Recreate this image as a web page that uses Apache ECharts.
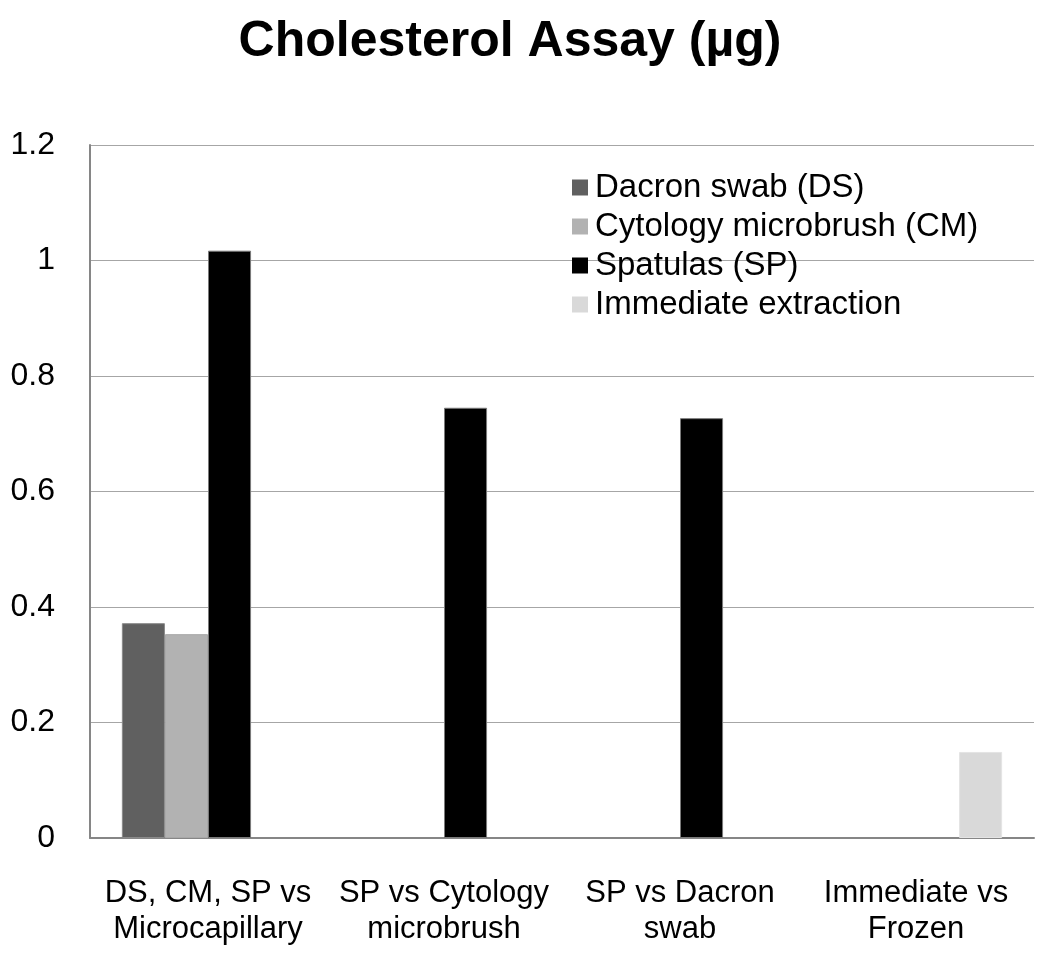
<!DOCTYPE html>
<html>
<head>
<meta charset="utf-8">
<script src="https://cdn.jsdelivr.net/npm/echarts@6/dist/echarts.min.js"></script>
<style>html,body{margin:0;padding:0;background:#fff;}#chart{width:1050px;height:966px;}</style>
</head>
<body>
<div id="chart"></div>
<script>
const categories = ['DS, CM, SP vs\nMicrocapillary', 'SP vs Cytology\nmicrobrush', 'SP vs Dacron\nswab', 'Immediate vs\nFrozen'];
const seriesNames = ['Dacron swab (DS)', 'Cytology microbrush (CM)', 'Spatulas (SP)', 'Immediate extraction'];
const dacronSwab = [0.372, null, null, null];
const cytologyMicrobrush = [0.353, null, null, null];
const spatulas = [1.017, 0.745, 0.727, null];
const immediateExtraction = [null, null, null, 0.149];
const yTicks = { min: 0, max: 1.2, interval: 0.2 };

const colors = ['#606060', '#b2b2b2', '#000000', '#d9d9d9'];
const borders = ['#8a8a8a', '#a8a8a8', '#7a7a7a', '#e4e4e4'];
const allData = [dacronSwab, cytologyMicrobrush, spatulas, immediateExtraction];

const chart = echarts.init(document.getElementById('chart'));
const font = 'Liberation Sans, Arial, sans-serif';
chart.setOption({
  animation: false,
  backgroundColor: '#fff',
  title: {
    text: 'Cholesterol Assay (µg)',
    left: 505, top: 12, textAlign: 'center',
    textStyle: { fontFamily: font, fontWeight: 'bold', fontSize: 50, color: '#000' }
  },
  legend: {
    orient: 'vertical', left: 567, top: 166,
    itemWidth: 16, itemHeight: 16, itemGap: 6,
    icon: 'rect',
    itemStyle: { borderWidth: 0 },
    data: seriesNames,
    textStyle: { fontFamily: font, fontSize: 33, color: '#000', lineHeight: 33, padding: [0, 0, 0, 2] }
  },
  grid: { left: 90, top: 145, right: 16, bottom: 128, containLabel: false },
  xAxis: {
    type: 'category', data: categories,
    axisLine: { lineStyle: { color: '#868686', width: 2 } },
    axisTick: { show: false },
    axisLabel: { fontFamily: font, fontSize: 31, color: '#000', lineHeight: 36, margin: 37, interval: 0 }
  },
  yAxis: {
    type: 'value', min: yTicks.min, max: yTicks.max, interval: yTicks.interval,
    axisLine: { show: true, lineStyle: { color: '#868686', width: 2 } },
    axisTick: { show: false },
    splitLine: { lineStyle: { color: '#a6a6a6', width: 1 } },
    axisLabel: { fontFamily: font, fontSize: 32, color: '#000', margin: 35 }
  },
  series: seriesNames.map((n, i) => ({
    name: n, type: 'bar', data: allData[i],
    barGap: '0%', barCategoryGap: '27%',
    itemStyle: { color: colors[i], borderColor: borders[i], borderWidth: 1 }
  }))
});
</script>
</body>
</html>
